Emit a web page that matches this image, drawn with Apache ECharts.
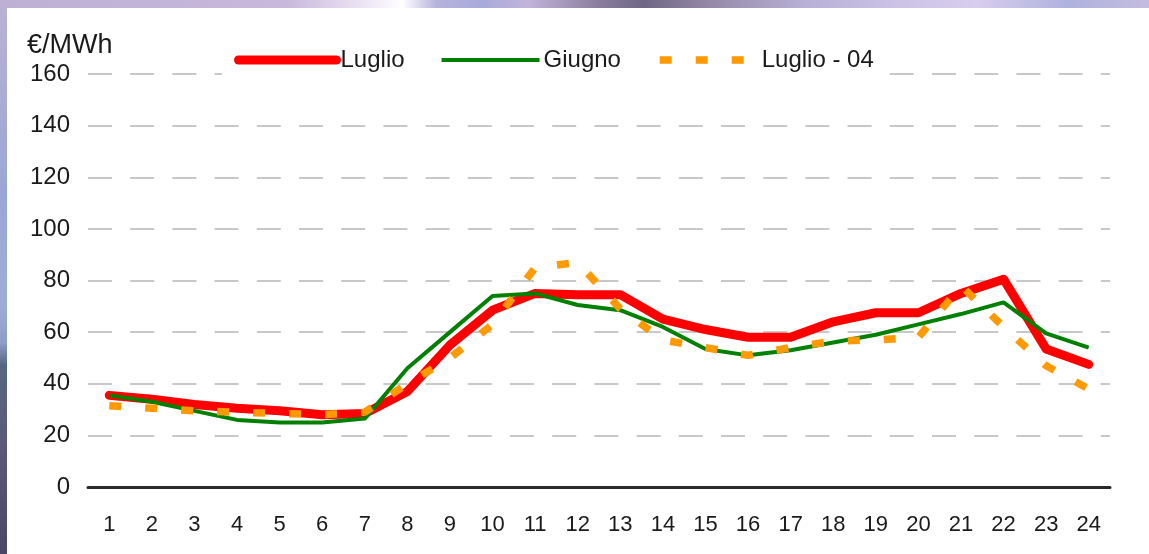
<!DOCTYPE html>
<html>
<head>
<meta charset="utf-8">
<script src="https://cdn.jsdelivr.net/npm/echarts@6/dist/echarts.min.js"></script>
<style>
  html, body { margin: 0; padding: 0; }
  body {
    width: 1149px; height: 554px; overflow: hidden; position: relative;
    background: linear-gradient(180deg, #bab2d4 0%, #9aa6d6 35%, #a0acd8 55%, #8a9cc8 62%, #566680 66%, #5a5a78 80%, #484866 100%);
  }
  #topstrip {
    position: absolute; left: 0; top: 0; width: 1149px; height: 8px;
    background: linear-gradient(90deg, #bcb0d4 0%, #c8b8dc 25%, #f4eefa 33%, #fff 35%, #b6b2dc 38%, #a8aada 42%, #c2b4da 46%, #8a7e9e 52%, #6e6684 56%, #968aa8 62%, #b8b0d6 70%, #cbc2e6 78%, #d8cdee 85%, #aeb2de 93%, #c4bce0 100%);
  }
  #chart {
    position: absolute; left: 7px; top: 8px; width: 1142px; height: 546px;
    background: #fff;
  }
</style>
</head>
<body>
<div id="topstrip"></div>
<div id="chart"></div>
<script>
// ore del giorno
var hours = ['1', '2', '3', '4', '5', '6', '7', '8', '9', '10', '11', '12',
  '13', '14', '15', '16', '17', '18', '19', '20', '21', '22', '23', '24']

var luglio = [35.5, 34, 32, 30.5, 29.5, 28, 28.5, 37, 55, 68.5, 75, 74.5,
  74.5, 65, 61, 58, 58, 64, 67.5, 67.5, 75, 80.5, 53.5, 47.5]
var giugno = [35.5, 33, 29.5, 26, 25, 25, 26.5, 46, 60, 74, 75, 70.5,
  68.5, 62, 53.5, 51, 53, 56, 59, 63, 67, 71.5, 59.5, 54]
var luglio04 = [31.5, 30.5, 29.5, 29, 28.5, 28, 29, 40, 50, 63, 85, 87,
  69, 57, 54, 51, 54, 56.5, 57, 58, 78, 62, 47, 38]

var seriesNames = ['Luglio', 'Giugno', 'Luglio - 04']
var unitLabel = '€/MWh'

var chart = echarts.init(document.getElementById('chart'))

var font = 'Liberation Sans, Arial, sans-serif'

var option = {
  animation: false,
  textStyle: { fontFamily: font },
  title: {
    text: unitLabel,
    left: 20,
    top: 24,
    padding: 0,
    textStyle: { fontSize: 27, fontWeight: 'normal', color: '#1a1a1a', fontFamily: font }
  },
  legend: {
    data: [
      { name: seriesNames[0], lineStyle: { width: 9, cap: 'round' } },
      { name: seriesNames[1], lineStyle: { width: 4 } },
      { name: seriesNames[2], lineStyle: { width: 7.5, type: [12, 24] } }
    ],
    left: 215,
    top: 36,
    padding: [4, 14, 4, 12],
    backgroundColor: '#fff',
    itemWidth: 98,
    itemHeight: 14,
    itemGap: 35,
    itemStyle: { color: 'transparent', borderColor: 'transparent', borderWidth: 0 },
    textStyle: { fontSize: 24, color: '#1a1a1a', padding: [5, 0, 0, -1] }
  },
  grid: {
    left: 81,
    right: 39,
    top: 66,
    bottom: 67
  },
  xAxis: {
    type: 'category',
    data: hours,
    boundaryGap: true,
    axisLine: { show: true, lineStyle: { color: '#2a2a2a', width: 3 } },
    axisTick: { show: false },
    axisLabel: { color: '#1a1a1a', fontSize: 22, margin: 27 },
    splitLine: { show: false }
  },
  yAxis: {
    type: 'value',
    min: 0,
    max: 160,
    interval: 20,
    axisLine: { show: false },
    axisTick: { show: false },
    axisLabel: { color: '#1a1a1a', fontSize: 24, margin: 18 },
    splitLine: {
      show: true,
      lineStyle: { color: '#c8c8c8', width: 2, type: [24, 18.2] }
    }
  },
  series: [
    {
      name: seriesNames[0],
      type: 'line',
      data: luglio,
      symbol: 'none',
      z: 3,
      lineStyle: { color: '#ff0000', width: 9, cap: 'round', join: 'round' },
      itemStyle: { color: '#ff0000' }
    },
    {
      name: seriesNames[1],
      type: 'line',
      data: giugno,
      symbol: 'none',
      z: 4,
      lineStyle: { color: '#008000', width: 4 },
      itemStyle: { color: '#008000' }
    },
    {
      name: seriesNames[2],
      type: 'line',
      data: luglio04,
      symbol: 'none',
      z: 5,
      lineStyle: { color: '#ff9900', width: 7.5, type: [12, 24] },
      itemStyle: { color: '#ff9900' }
    }
  ]
}

chart.setOption(option)
</script>
</body>
</html>
